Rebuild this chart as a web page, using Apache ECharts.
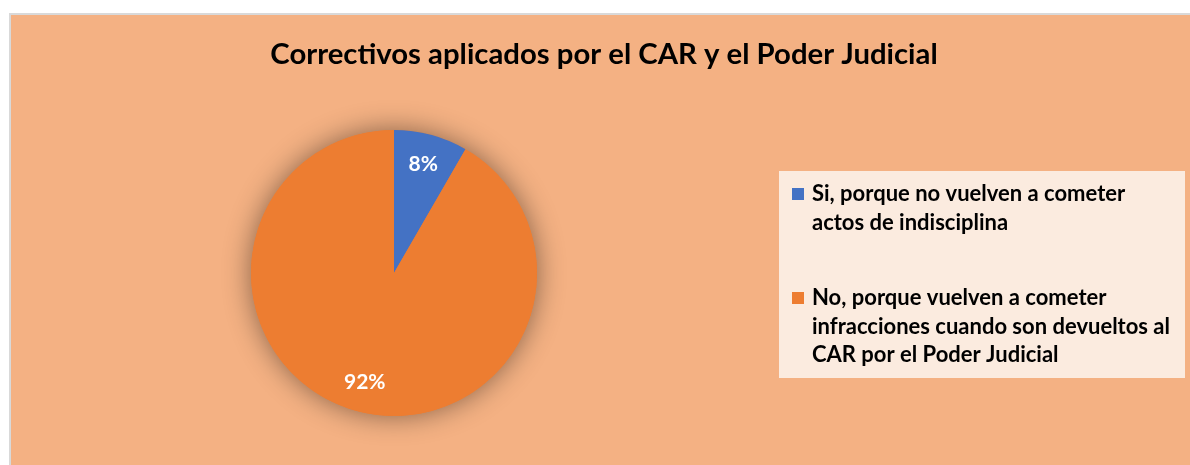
<!DOCTYPE html>
<html>
<head>
<meta charset="utf-8">
<script src="https://cdn.jsdelivr.net/npm/echarts@6/dist/echarts.min.js"></script>
<style>
  html, body { margin: 0; padding: 0; background: #ffffff; }
  #frame {
    position: absolute; left: 9px; top: 13px;
    border-left: 2px solid #d9d9d9; border-top: 2px solid #d9d9d9;
    background: #f4b183;
  }
  #main { width: 1179px; height: 450px; }
</style>
</head>
<body>
<div id="frame"><div id="main"></div></div>
<script>
const titleText = 'Correctivos aplicados por el CAR y el Poder Judicial'
const categories = [
  'Si, porque no vuelven a cometer actos de indisciplina',
  'No, porque vuelven a cometer infracciones cuando son devueltos al CAR por el Poder Judicial'
]
const values = [1, 11]
const colors = ['#4472c4', '#ed7d31']
// wrapped line count of each legend entry (used to align the square with the first line)
const legendLines = [2, 3]

const font = 'Lato'
const lh = 28.5
const cx = 383, cy = 258, r = 143

const pieData = categories.map((name, i) => ({ name: name, value: values[i], itemStyle: { color: colors[i] } }))
const total = values.reduce((a, b) => a + b, 0)

const chart = echarts.init(document.getElementById('main'))

const option = {
  animation: false,
  title: {
    text: titleText,
    left: 588,
    top: 17,
    textAlign: 'center',
    textStyle: { fontFamily: font, fontWeight: 'bold', fontSize: 29.3, color: '#000', lineHeight: 36 }
  },
  graphic: [{
    type: 'rect',
    left: 768, top: 156,
    shape: { width: 406, height: 207 },
    style: { fill: '#fbebdf' },
    z: 0
  }],
  legend: {
    orient: 'vertical',
    left: 781,
    top: 185 - 6 - 1.5 * lh,
    padding: 0,
    itemWidth: 12,
    itemHeight: 12,
    itemGap: -10,
    icon: 'rect',
    selectedMode: false,
    z: 5,
    formatter: name => '\n'.repeat(legendLines[categories.indexOf(name)] - 1) + name,
    textStyle: {
      fontFamily: font, fontWeight: 'bold', fontSize: 22, color: '#000',
      lineHeight: lh, width: 370, overflow: 'break', padding: [0, 0, 0, 3]
    },
    data: categories
  },
  series: [
    {
      // shadow backdrop
      type: 'pie',
      center: [cx, cy],
      radius: r,
      silent: true,
      legendHoverLink: false,
      label: { show: false },
      itemStyle: { color: '#ed7d31', shadowBlur: 28, shadowColor: 'rgba(0,0,0,0.45)' },
      data: [{ name: '_bg', value: total }],
      z: 1
    },
    {
      type: 'pie',
      center: [cx, cy],
      radius: r,
      startAngle: 90,
      clockwise: true,
      silent: true,
      label: { show: false },
      labelLine: { show: false },
      data: pieData,
      z: 2
    },
    {
      // label ring
      type: 'pie',
      center: [cx, cy],
      radius: [77, r],
      startAngle: 90,
      clockwise: true,
      silent: true,
      itemStyle: { color: 'rgba(0,0,0,0)' },
      label: {
        show: true,
        position: 'inside',
        formatter: p => Math.round(p.percent) + '%',
        fontFamily: font, fontWeight: 'bold', fontSize: 21, color: '#fff'
      },
      labelLine: { show: false },
      data: categories.map((name, i) => ({ name: name, value: values[i] })),
      z: 3
    }
  ]
}

chart.setOption(option)
</script>
</body>
</html>
